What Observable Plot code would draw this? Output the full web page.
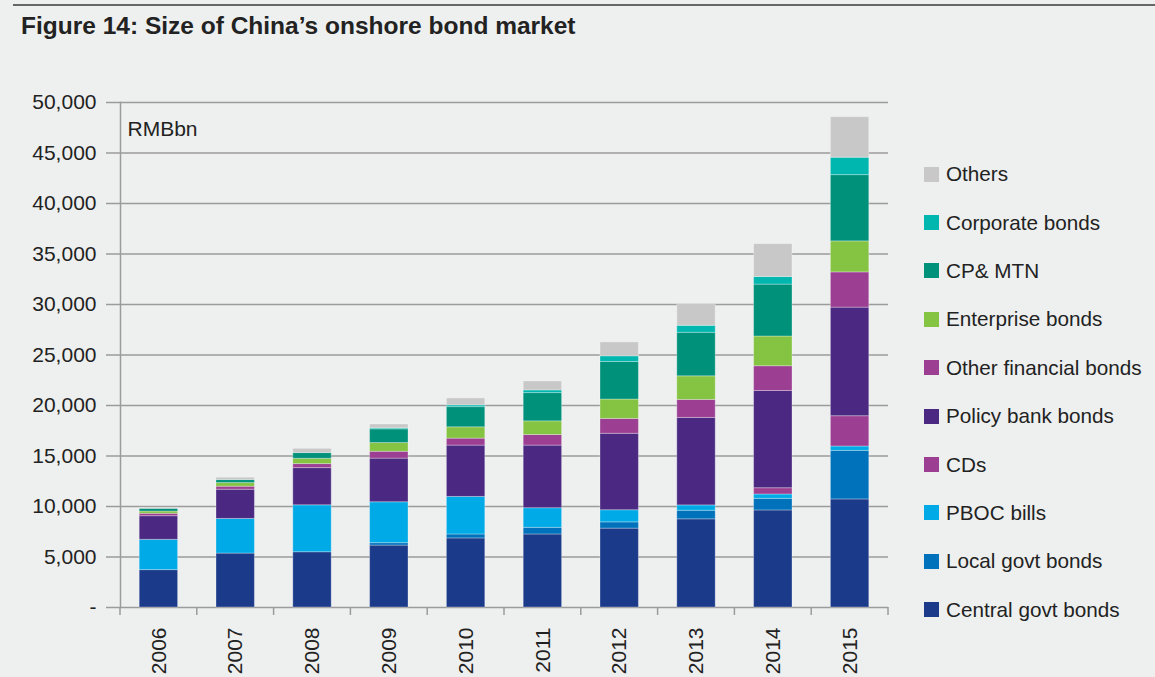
<!DOCTYPE html>
<html><head><meta charset="utf-8">
<script src="https://cdn.jsdelivr.net/npm/d3@7"></script>
<script src="https://cdn.jsdelivr.net/npm/@observablehq/plot@0.6"></script>
<style>
html,body{margin:0;padding:0;background:#eef0ef;width:1155px;height:677px;overflow:hidden;font-family:"Liberation Sans",Arial,sans-serif;}
#topline{position:absolute;left:13px;right:0;top:4px;height:2px;background:#666;}
#title{position:absolute;left:21px;top:12px;font-size:24.5px;font-weight:bold;color:#222;white-space:nowrap;}
#chart{position:absolute;left:0;top:60px;}
#legend{position:absolute;left:924px;top:150px;}
.item{display:flex;align-items:center;height:48.4px;font-size:20.7px;color:#222;white-space:nowrap;}
.sw{width:15px;height:15px;margin-right:7px;flex:none;}
</style>
</head><body>
<div id="topline"></div>
<div id="title">Figure 14: Size of China’s onshore bond market</div>
<div id="chart"></div>
<div id="legend"></div>
<script>
const years = ["2006","2007","2008","2009","2010","2011","2012","2013","2014","2015"];
const yTicks = [0,5000,10000,15000,20000,25000,30000,35000,40000,45000,50000];
const unitLabel = "RMBbn";

// series, bottom of stack to top
const seriesNames = ["Central govt bonds","Local govt bonds","PBOC bills","CDs","Policy bank bonds","Other financial bonds","Enterprise bonds","CP& MTN","Corporate bonds","Others"];
const seriesColors = ["#1b3a8a","#0071bb","#00aae6","#9c3f92","#4b2882","#9c3f92","#85c342","#00917b","#00b7af","#c8c8c8"];

const centralGovt   = [3700,5340,5470,6130,6840,7230,7810,8730,9610,10700];
const localGovt     = [0,0,0,240,390,660,620,850,1150,4810];
const pbocBills     = [3000,3430,4650,4050,3720,1940,1200,530,430,430];
const cds           = [0,0,0,0,0,0,0,0,620,3000];
const policyBank    = [2340,2890,3680,4320,5080,6200,7570,8660,9630,10750];
const otherFinancial= [240,300,400,680,690,1050,1470,1780,2450,3490];
const enterprise    = [220,360,520,860,1120,1350,1920,2340,2940,3070];
const cpMtn         = [270,300,570,1360,2000,2800,3720,4310,5140,6560];
const corporate     = [0,0,0,100,170,260,560,690,750,1720];
const others        = [100,230,420,380,690,890,1380,2170,3260,4020];

const seriesValues = [centralGovt,localGovt,pbocBills,cds,policyBank,otherFinancial,enterprise,cpMtn,corporate,others];

const rows = [];
years.forEach((yr, i) => {
  seriesNames.forEach((name, j) => {
    rows.push({year: yr, type: name, order: j, value: seriesValues[j][i]});
  });
});

const fmt = d3.format(",");
const chart = Plot.plot({
  width: 900,
  height: 617,
  marginTop: 42,
  marginBottom: 70,
  marginLeft: 120,
  marginRight: 12,
  style: {background: "transparent", fontFamily: "Liberation Sans, Arial, sans-serif", fontSize: "21px", color: "#222", overflow: "visible"},
  x: {domain: years, paddingInner: 0.5, paddingOuter: 0.25, align: 0.5, round: false, label: null},
  y: {domain: [0, 50000], label: null},
  color: {domain: seriesNames, range: seriesColors},
  marks: [
    Plot.gridY(yTicks, {stroke: "#9b9b9b", strokeOpacity: 1, strokeWidth: 1.5}),
    Plot.barY(rows, Plot.stackY({x: "year", y: "value", fill: "type", order: "order", stroke: "#ffffff", strokeOpacity: 0.3, strokeWidth: 1, inset: 0})),
    Plot.frame({anchor: "left", stroke: "#9b9b9b", strokeWidth: 1.5}),
    Plot.axisY(yTicks, {tickSize: 14, tickPadding: 10, stroke: "#9b9b9b", strokeWidth: 1.5, tickFormat: d => d === 0 ? "-" : fmt(d), fontSize: 21, fill: "#222", label: null}),
    Plot.axisX({tickSize: 0, tickPadding: 20, tickRotate: -90, fontSize: 21, fill: "#222", label: null}),
    Plot.text([unitLabel], {frameAnchor: "top-left", dx: 7, dy: 33, lineAnchor: "bottom", textAnchor: "start", fontSize: 21, fill: "#222"})
  ]
});
document.getElementById("chart").appendChild(chart);

// category boundary ticks below the baseline, from Plot's own scales
const sx = chart.scale("x");
const sy = chart.scale("y");
const half = (sx.step - sx.bandwidth) / 2;
const bounds = years.map(y => sx.apply(y) - half);
bounds.push(sx.apply(years[years.length - 1]) + sx.bandwidth + half);
const y0 = sy.apply(0);
d3.select(chart).append("g")
  .selectAll("line").data(bounds).join("line")
  .attr("x1", d => d).attr("x2", d => d)
  .attr("y1", y0).attr("y2", y0 + 8)
  .attr("stroke", "#9b9b9b").attr("stroke-width", 1.5);

// legend (top to bottom = reverse of stack)
const legend = d3.select("#legend");
seriesNames.slice().reverse().forEach((name) => {
  const idx = seriesNames.indexOf(name);
  const item = legend.append("div").attr("class", "item");
  item.append("div").attr("class", "sw").style("background", seriesColors[idx]);
  item.append("span").text(name);
});
</script>
</body></html>
